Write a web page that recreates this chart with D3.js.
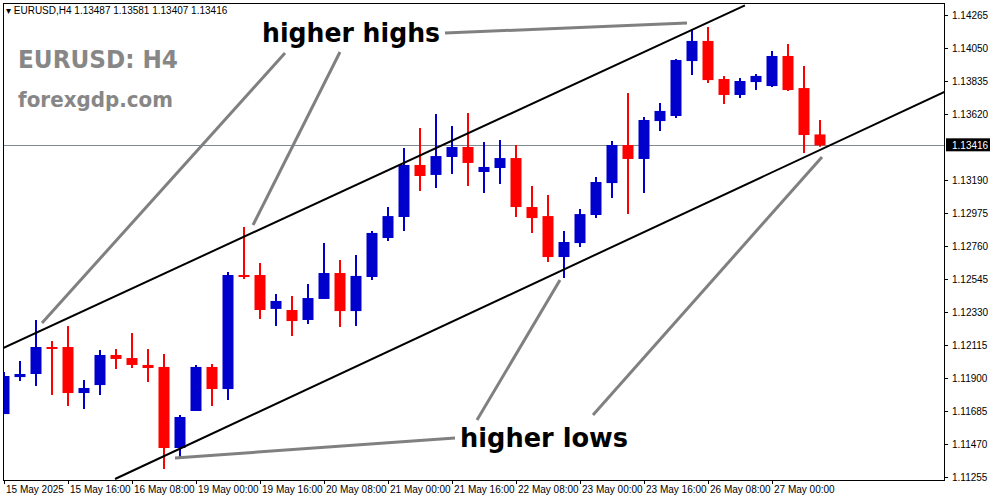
<!DOCTYPE html>
<html><head><meta charset="utf-8">
<script src="https://cdn.jsdelivr.net/npm/d3@7"></script>
<style>body{margin:0;background:#fff}svg{display:block}</style>
</head><body>
<svg id="c" width="991" height="501"></svg>
<script>
const opens  = [1.11665,1.11906,1.11926,1.12102,1.12102,1.11802,1.11854,1.12050,1.12030,1.11985,1.11972,1.11444,1.11685,1.11972,1.11828,1.12571,1.12571,1.12350,1.12343,1.12278,1.12415,1.12584,1.12336,1.12558,1.12812,1.12949,1.13288,1.13223,1.13340,1.13405,1.13242,1.13268,1.13333,1.13014,1.12955,1.12688,1.12779,1.12962,1.13170,1.13418,1.13327,1.13574,1.13607,1.13965,1.14096,1.13848,1.13744,1.13828,1.13802,1.13998,1.13789,1.13487];
const highs  = [1.11939,1.12011,1.12278,1.12141,1.12239,1.11887,1.12082,1.12089,1.12193,1.12089,1.12056,1.11659,1.11985,1.11991,1.12591,1.12884,1.12649,1.12447,1.12434,1.12512,1.12779,1.12669,1.12701,1.12858,1.13014,1.13398,1.13529,1.13620,1.13542,1.13626,1.13438,1.13451,1.13418,1.13151,1.13092,1.12858,1.13001,1.13209,1.13444,1.13757,1.13600,1.13692,1.13978,1.14174,1.14187,1.13868,1.13854,1.13881,1.14030,1.14076,1.13933,1.13581];
const lows   = [1.11665,1.11880,1.11848,1.11789,1.11717,1.11698,1.11789,1.11959,1.11965,1.11874,1.11307,1.11385,1.11685,1.11717,1.11757,1.12545,1.12284,1.12239,1.12174,1.12252,1.12415,1.12232,1.12239,1.12538,1.12793,1.12858,1.13118,1.13138,1.13229,1.13151,1.13105,1.13164,1.12949,1.12845,1.12656,1.12551,1.12753,1.12942,1.13073,1.12968,1.13105,1.13509,1.13594,1.13874,1.13822,1.13685,1.13724,1.13776,1.13796,1.13770,1.13366,1.13407];
const closes = [1.11913,1.11926,1.12102,1.12089,1.11802,1.11835,1.12050,1.12024,1.11985,1.11965,1.11444,1.11646,1.11972,1.11828,1.12571,1.12558,1.12343,1.12402,1.12271,1.12421,1.12584,1.12336,1.12565,1.12845,1.12955,1.13288,1.13216,1.13346,1.13405,1.13301,1.13275,1.13333,1.13014,1.12942,1.12688,1.12786,1.12968,1.13177,1.13418,1.13327,1.13581,1.13640,1.13972,1.14096,1.13841,1.13744,1.13835,1.13868,1.13998,1.13776,1.13483,1.13416];
const priceTicks = [1.14265,1.14050,1.13835,1.13620,1.13190,1.12975,1.12760,1.12545,1.12330,1.12115,1.11900,1.11685,1.11470,1.11255];
const timeTickIdx = [0,4,8,12,16,20,24,28,32,36,40,44,48];
const timeTickLabels = ["15 May 2025","15 May 16:00","16 May 08:00","19 May 00:00","19 May 16:00","20 May 08:00","21 May 00:00","21 May 16:00","22 May 08:00","23 May 00:00","23 May 16:00","26 May 08:00","27 May 00:00"];
const lastPrice = 1.13416;
// channel lines as [candle index, price]
const upperLine = [[-0.22,1.12086],[46.34,1.14328]];
const lowerLine = [[6.97,1.11242],[58.84,1.13766]];

const svg = d3.select("#c");
const L=3,T=3,R=945,B=480;
const x = d3.scaleLinear().domain([0,1]).range([3.5,19.5]);
const y = d3.scaleLinear().domain([1.11255,1.14265]).range([477,15]);
const font = "Tahoma, 'DejaVu Sans', sans-serif";
const sfont = "'Liberation Sans', Arial, sans-serif";

svg.append("clipPath").attr("id","pc").append("rect").attr("x",L).attr("y",T).attr("width",R-L).attr("height",B-T);
const g = svg.append("g").attr("clip-path","url(#pc)");

g.append("line").attr("x1",L).attr("x2",R).attr("y1",Math.round(y(lastPrice))+0.5).attr("y2",Math.round(y(lastPrice))+0.5).attr("stroke","#808a90").attr("stroke-width",1);

const data = opens.map((o,i)=>({i,o,h:highs[i],l:lows[i],c:closes[i]}));
const col = d=> d.c>=d.o ? "#0000cc" : "#ff0000";
g.selectAll(".w").data(data).join("line")
  .attr("x1",d=>Math.round(x(d.i))).attr("x2",d=>Math.round(x(d.i)))
  .attr("y1",d=>y(d.h)).attr("y2",d=>y(d.l)).attr("stroke",col).attr("stroke-width",2);
g.selectAll(".b").data(data).join("rect")
  .attr("x",d=>Math.round(x(d.i))-5.5).attr("width",11)
  .attr("y",d=>y(Math.max(d.o,d.c))).attr("height",d=>Math.max(2,Math.abs(y(d.o)-y(d.c))))
  .attr("fill",col);

const ln = d3.line().x(d=>x(d[0])).y(d=>y(d[1]));
[upperLine,lowerLine].forEach(p=>g.append("path").attr("d",ln(p)).attr("stroke","#000").attr("stroke-width",2).attr("fill","none"));

const ann = [[445,33,687,23],[285,53,42,323],[340,52,253,225],[455,438,175,458],[477,420,560,280],[593,415,822,157]];
g.selectAll(".a").data(ann).join("line").attr("x1",d=>d[0]).attr("y1",d=>d[1]).attr("x2",d=>d[2]).attr("y2",d=>d[3]).attr("stroke","#808080").attr("stroke-width",3);

svg.append("text").attr("x",262).attr("y",42).attr("font-family",font).attr("font-weight","bold").attr("font-size",27).attr("textLength",178).attr("lengthAdjust","spacingAndGlyphs").text("higher highs");
svg.append("text").attr("x",460).attr("y",447).attr("font-family",font).attr("font-weight","bold").attr("font-size",27).attr("textLength",168).attr("lengthAdjust","spacingAndGlyphs").text("higher lows");
svg.append("text").attr("x",18).attr("y",68).attr("font-family",font).attr("font-weight","bold").attr("font-size",25).attr("fill","#878787").attr("textLength",160).attr("lengthAdjust","spacingAndGlyphs").text("EURUSD: H4");
svg.append("text").attr("x",18).attr("y",107).attr("font-family",font).attr("font-weight","bold").attr("font-size",21).attr("fill","#878787").attr("textLength",155).attr("lengthAdjust","spacingAndGlyphs").text("forexgdp.com");
svg.append("text").attr("x",6).attr("y",14).attr("font-family",sfont).attr("font-size",10).text("▾ EURUSD,H4  1.13487 1.13581 1.13407 1.13416");

svg.append("rect").attr("x",L+0.5).attr("y",T+0.5).attr("width",R-L-1).attr("height",B-T).attr("fill","none").attr("stroke","#000");

const ya = svg.append("g").attr("transform",`translate(${R},0)`)
  .call(d3.axisRight(y).tickValues(priceTicks).tickFormat(d3.format(".5f")).tickSize(3).tickPadding(4));
ya.select(".domain").remove();
ya.selectAll("text").attr("font-family",sfont).attr("font-size",10).attr("fill","#000");
ya.selectAll("line").attr("stroke","#000");
const ly = y(lastPrice);
svg.append("rect").attr("x",R+1).attr("y",ly-7).attr("width",44).attr("height",13).attr("fill","#000");
svg.append("text").attr("x",R+7).attr("y",ly+4).attr("font-family",sfont).attr("font-size",10).attr("fill","#fff").text(d3.format(".5f")(lastPrice));

const xa = svg.append("g").attr("transform",`translate(0,${B})`)
  .call(d3.axisBottom(x).tickValues(timeTickIdx).tickFormat((d,i)=>timeTickLabels[i]).tickSize(4));
xa.select(".domain").remove();
xa.selectAll("line").attr("stroke","#000").attr("transform","translate(0.5,0)");
xa.selectAll("text").attr("font-family",sfont).attr("font-size",10).attr("fill","#000").attr("text-anchor","start").attr("dx","2").attr("y",6);
</script></body></html>
